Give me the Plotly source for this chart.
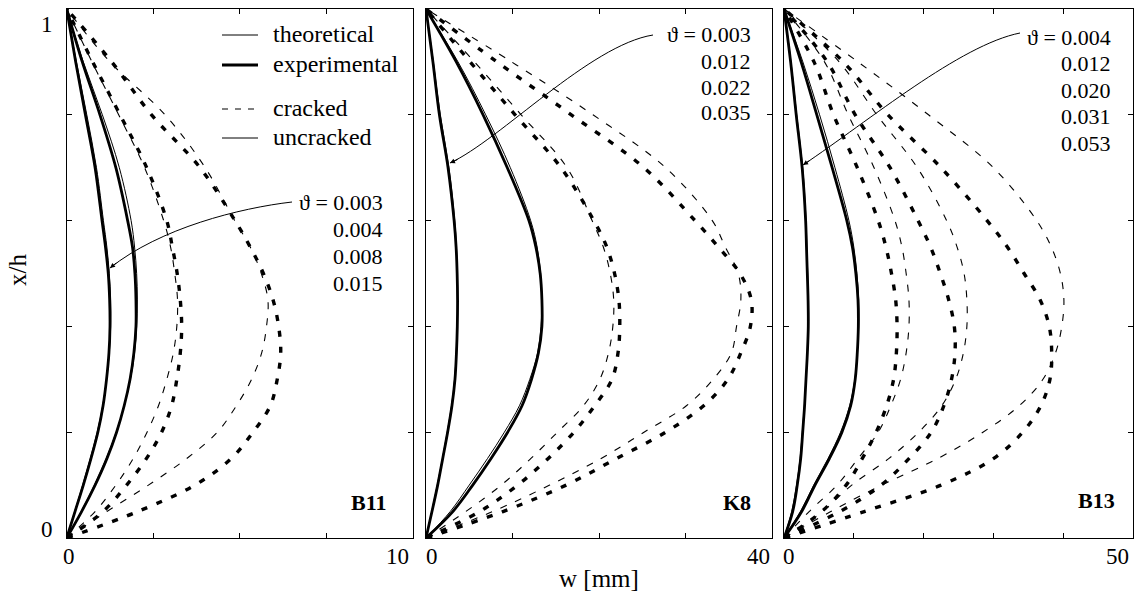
import plotly.graph_objects as go

W, H = 1134, 591
FONT = "Liberation Serif, DejaVu Serif, serif"

# ---------------- data ----------------
xh = [0, 0.05, 0.1, 0.15, 0.2, 0.25, 0.3, 0.35, 0.4, 0.45, 0.5, 0.55, 0.6, 0.7, 0.8, 0.9, 1.0]

# B11
b11_theta = ["0.003", "0.004", "0.008", "0.015"]
b11_cracked = [False, False, True, True]
b11_theo = [
    [0, 0.23, 0.46, 0.68, 0.88, 1.04, 1.15, 1.23, 1.27, 1.27, 1.23, 1.16, 1.06, 0.86, 0.58, 0.28, 0],
    [0, 0.42, 0.80, 1.14, 1.43, 1.66, 1.84, 1.96, 2.02, 2.04, 2.02, 1.96, 1.86, 1.52, 1.03, 0.48, 0],
    [0, 0.82, 1.42, 1.92, 2.32, 2.65, 2.89, 3.08, 3.18, 3.20, 3.12, 3.00, 2.80, 2.25, 1.50, 0.73, 0],
    [0, 1.16, 2.36, 3.46, 4.35, 4.90, 5.34, 5.63, 5.77, 5.81, 5.62, 5.30, 4.85, 4.00, 2.84, 1.25, 0],
]
b11_exp = [
    [0, 0.24, 0.48, 0.70, 0.90, 1.05, 1.15, 1.22, 1.25, 1.24, 1.20, 1.12, 1.02, 0.82, 0.54, 0.26, 0],
    [0, 0.43, 0.82, 1.16, 1.44, 1.66, 1.83, 1.94, 2.00, 2.00, 1.97, 1.90, 1.76, 1.42, 0.96, 0.45, 0],
    [0, 1.05, 1.73, 2.30, 2.74, 3.03, 3.18, 3.28, 3.32, 3.28, 3.19, 3.05, 2.89, 2.31, 1.54, 0.75, 0],
    [0, 2.05, 3.70, 4.75, 5.38, 5.88, 6.08, 6.18, 6.12, 5.96, 5.68, 5.30, 4.86, 3.85, 2.45, 1.30, 0],
]

# K8
k8_theta = ["0.003", "0.012", "0.022", "0.035"]
k8_cracked = [False, False, True, True]
k8_theo = [
    [0, 0.66, 1.30, 1.90, 2.45, 2.95, 3.30, 3.50, 3.62, 3.66, 3.63, 3.52, 3.32, 2.65, 1.65, 0.85, 0],
    [0, 2.80, 5.00, 7.10, 9.06, 10.8, 12.0, 12.9, 13.3, 13.4, 13.25, 12.85, 12.1, 9.75, 6.90, 3.70, 0],
    [0, 4.60, 8.70, 12.1, 15.2, 18.2, 20.1, 21.1, 21.6, 21.7, 21.3, 20.5, 19.2, 16.3, 11.0, 5.60, 0],
    [0, 7.70, 14.3, 20.2, 25.2, 30.1, 33.2, 35.3, 35.9, 36.4, 36.1, 34.6, 33.1, 27.7, 19.3, 9.90, 0],
]
k8_exp = [
    [0, 0.69, 1.35, 1.93, 2.50, 3.00, 3.35, 3.52, 3.62, 3.65, 3.60, 3.48, 3.25, 2.55, 1.55, 0.80, 0],
    [0, 3.10, 5.40, 7.50, 9.44, 11.1, 12.2, 13.0, 13.4, 13.4, 13.2, 12.7, 11.9, 9.40, 6.60, 3.50, 0],
    [0, 6.20, 10.6, 14.1, 17.1, 19.5, 21.5, 22.2, 22.4, 22.3, 21.8, 20.9, 19.4, 15.6, 10.3, 5.10, 0],
    [0, 8.90, 16.2, 22.0, 27.7, 32.1, 34.9, 36.4, 37.5, 37.6, 36.3, 33.8, 31.1, 25.2, 16.8, 8.20, 0],
]

# B13
b13_theta = ["0.004", "0.012", "0.020", "0.031", "0.053"]
b13_cracked = [False, False, True, True, True]
b13_theo = [
    [0, 1.10, 1.80, 2.30, 2.62, 2.92, 3.14, 3.36, 3.50, 3.50, 3.40, 3.28, 3.16, 2.68, 1.82, 1.00, 0],
    [0, 2.35, 4.25, 6.30, 8.10, 9.40, 10.15, 10.5, 10.7, 10.7, 10.45, 10.0, 9.30, 7.30, 5.10, 2.70, 0],
    [0, 3.60, 7.60, 10.6, 13.5, 15.3, 16.7, 17.5, 17.9, 17.9, 17.5, 16.9, 15.9, 12.9, 9.20, 5.80, 0],
    [0, 5.50, 9.70, 15.0, 19.3, 22.6, 24.6, 25.7, 26.2, 26.2, 25.8, 24.8, 23.3, 19.1, 13.3, 7.90, 0],
    [0, 6.70, 14.0, 22.0, 28.5, 33.7, 37.1, 38.9, 39.8, 40.1, 39.6, 38.3, 36.2, 30.0, 20.7, 10.6, 0],
]
b13_exp = [
    [0, 1.24, 1.90, 2.39, 2.68, 2.95, 3.15, 3.35, 3.48, 3.45, 3.34, 3.22, 3.10, 2.60, 1.75, 0.95, 0],
    [0, 2.53, 4.44, 6.50, 8.30, 9.55, 10.2, 10.5, 10.65, 10.6, 10.3, 9.80, 9.00, 6.90, 4.70, 2.45, 0],
    [0, 5.40, 8.90, 11.2, 13.2, 14.7, 15.7, 16.1, 16.2, 16.0, 15.4, 14.6, 13.5, 10.5, 7.10, 4.30, 0],
    [0, 8.00, 13.9, 17.9, 21.1, 22.9, 24.0, 24.5, 24.4, 23.6, 22.4, 21.0, 19.2, 15.2, 10.2, 6.20, 0],
    [0, 11.5, 22.5, 30.0, 34.2, 36.8, 38.1, 38.35, 38.0, 36.7, 34.4, 32.0, 29.1, 22.5, 14.9, 8.50, 0],
]

panel_names = ["B11", "K8", "B13"]
panel_wmax = [10, 40, 50]
panel_xticks = [[2.5, 5, 7.5], [10, 20, 30], [10, 20, 30, 40]]
legend_labels = ["theoretical", "experimental", "cracked", "uncracked"]
x_label = "w [mm]"
y_label = "x/h"

# ---------------- layout geometry (pixels) ----------------
px_dom = [(66.7, 413), (426, 772), (784, 1133)]
py_top, py_bot = 9, 538


def PX(x):
    return x / W


def PY(y):
    return 1 - y / H


fig = go.Figure()

panels = [
    (b11_theta, b11_cracked, b11_theo, b11_exp),
    (k8_theta, k8_cracked, k8_theo, k8_exp),
    (b13_theta, b13_cracked, b13_theo, b13_exp),
]

for p, (thetas, cracked, theo, exp) in enumerate(panels):
    xa = "x" if p == 0 else f"x{p+1}"
    ya = "y" if p == 0 else f"y{p+1}"
    for k in range(len(thetas)):
        if cracked[k]:
            lt = dict(color="black", width=1.1, dash="7px,9px", shape="spline", smoothing=1.0)
            le = dict(color="black", width=3.4, dash="6px,10px", shape="spline", smoothing=1.0)
        else:
            lt = dict(color="black", width=1.0, shape="spline", smoothing=1.0)
            le = dict(color="black", width=2.8, shape="spline", smoothing=1.0)
        fig.add_trace(go.Scatter(x=exp[k], y=xh, mode="lines", line=le,
                                 xaxis=xa, yaxis=ya, hoverinfo="skip",
                                 name=f"exp {thetas[k]}"))
        fig.add_trace(go.Scatter(x=theo[k], y=xh, mode="lines", line=lt,
                                 xaxis=xa, yaxis=ya, hoverinfo="skip",
                                 name=f"theo {thetas[k]}"))

layout = dict(width=W, height=H, margin=dict(l=0, r=0, t=0, b=0),
              paper_bgcolor="white", plot_bgcolor="white", showlegend=False,
              font=dict(family=FONT, color="black", size=21))

for p in range(3):
    xk = "xaxis" if p == 0 else f"xaxis{p+1}"
    yk = "yaxis" if p == 0 else f"yaxis{p+1}"
    ya = "y" if p == 0 else f"y{p+1}"
    xa = "x" if p == 0 else f"x{p+1}"
    layout[xk] = dict(domain=[PX(px_dom[p][0]), PX(px_dom[p][1])], range=[0, panel_wmax[p]],
                      anchor=ya, showline=True, linecolor="black", linewidth=1,
                      mirror="ticks", ticks="inside", ticklen=5, tickcolor="black",
                      tickvals=panel_xticks[p], showticklabels=False,
                      showgrid=False, zeroline=False, fixedrange=True)
    layout[yk] = dict(domain=[PY(py_bot), PY(py_top)], range=[0, 1], anchor=xa,
                      showline=True, linecolor="black", linewidth=1,
                      mirror="ticks", ticks="inside", ticklen=5, tickcolor="black",
                      tickvals=[0.2, 0.4, 0.6, 0.8], showticklabels=False,
                      showgrid=False, zeroline=False, fixedrange=True)

fig.update_layout(**layout)

ann = []
shapes = []


def text(x, y, s, size=21, xanchor="center", yanchor="middle", bold=False, angle=0):
    if bold:
        s = f"<b>{s}</b>"
    ann.append(dict(x=PX(x), y=PY(y), xref="paper", yref="paper", text=s,
                    showarrow=False, xanchor=xanchor, yanchor=yanchor,
                    textangle=angle, font=dict(family=FONT, size=size, color="black")))


# x tick labels (0 and max)
text(69, 556, "0", size=23)
text(411, 556, str(panel_wmax[0]), size=23, xanchor="right")
text(432, 556, "0", size=23)
text(772, 556, str(panel_wmax[1]), size=23, xanchor="right")
text(789, 556, "0", size=23)
text(1131, 556, str(panel_wmax[2]), size=23, xanchor="right")
# y tick labels
text(47, 25, "1", size=23)
text(47, 529, "0", size=23)
# axis titles
text(599, 578, x_label, size=25)
text(17, 270, y_label, size=25, angle=-90)

# panel names
text(388, 502, panel_names[0], size=22, xanchor="right", bold=True)
text(753, 502, panel_names[1], size=22, xanchor="right", bold=True)
text(1117, 500, panel_names[2], size=22, xanchor="right", bold=True)

# theta lists
theta_pos = [(385, 203, 26.7), (753, 35, 26.0), (1113, 37, 26.5)]
for p, thetas in enumerate([b11_theta, k8_theta, b13_theta]):
    xr, y0, dy = theta_pos[p]
    for i, t in enumerate(thetas):
        s = ("\u03d1 = " + t) if i == 0 else t
        text(xr, y0 + i * dy, s, size=22, xanchor="right")

# legend (drawn manually)
leg_rows = [(35, 1.0, None), (65, 3.0, None), (109, 1.1, "6px,7px"), (138, 1.0, None)]
for (yy, wd, dash), lab in zip(leg_rows, legend_labels):
    ln = dict(color="black", width=wd)
    if dash:
        ln["dash"] = dash
    shapes.append(dict(type="line", xref="paper", yref="paper",
                       x0=PX(222), x1=PX(258), y0=PY(yy), y1=PY(yy), line=ln))
    text(271, yy - 1, lab, size=24, xanchor="left")

# curved pointer arrows (pixel coordinates of the curve)
arrows = [
    ((292, 202), (240, 208), (160, 228), (110, 268)),
    ((653, 35), (590, 45), (500, 140), (450, 163)),
    ((1020, 33), (960, 45), (870, 120), (803, 165)),
]
for P0, C1, C2, P3 in arrows:
    path = "M {},{} C {},{} {},{} {},{}".format(
        PX(P0[0]), PY(P0[1]), PX(C1[0]), PY(C1[1]), PX(C2[0]), PY(C2[1]), PX(P3[0]), PY(P3[1]))
    shapes.append(dict(type="path", xref="paper", yref="paper", path=path,
                       line=dict(color="black", width=1)))
    dx, dy = C2[0] - P3[0], C2[1] - P3[1]
    n = (dx * dx + dy * dy) ** 0.5
    ann.append(dict(x=PX(P3[0]), y=PY(P3[1]), xref="paper", yref="paper", text="",
                    showarrow=True, arrowhead=2, arrowsize=1, arrowwidth=1, arrowcolor="black",
                    ax=10 * dx / n, ay=10 * dy / n))

fig.update_layout(annotations=ann, shapes=shapes)
fig.write_html("out.html", config={"displayModeBar": False, "staticPlot": True},
               post_script="document.body.style.margin='0px';document.body.style.padding='0px';")
